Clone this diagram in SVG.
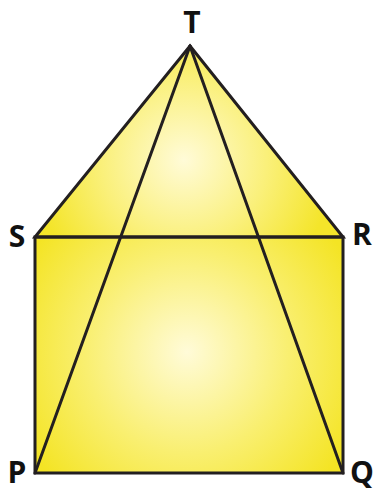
<svg xmlns="http://www.w3.org/2000/svg" width="377" height="491" viewBox="0 0 377 491">
  <style>
    .lbl { font-family: "Open Sans", "Liberation Sans", sans-serif; font-weight: bold; font-size: 30px; fill: #111; }
    .edge { stroke: #231f20; stroke-width: 3; fill: none; stroke-linejoin: miter; stroke-linecap: round; }
  </style>
  <defs>
    <radialGradient id="gTri" gradientUnits="userSpaceOnUse" cx="184" cy="160" r="150">
      <stop offset="0" stop-color="#fffbd8"/>
      <stop offset="0.55" stop-color="#faf07a"/>
      <stop offset="1" stop-color="#f4e52a"/>
    </radialGradient>
    <radialGradient id="gSq" gradientUnits="userSpaceOnUse" cx="187" cy="352" r="185">
      <stop offset="0" stop-color="#fffbd8"/>
      <stop offset="0.55" stop-color="#f9ef70"/>
      <stop offset="1" stop-color="#f4e424"/>
    </radialGradient>
  </defs>
  <g id="fills">
    <polygon points="190,46 35,237 343,237" fill="url(#gTri)"/>
    <rect x="35" y="237" width="308" height="236" fill="url(#gSq)"/>
  </g>
  <g id="connectors">
    <polygon class="edge" points="190,46 35,237 343,237"/>
    <rect class="edge" x="35" y="237" width="308" height="236"/>
    <line class="edge" x1="190" y1="46" x2="35" y2="473"/>
    <line class="edge" x1="190" y1="46" x2="343" y2="473"/>
  </g>
  <g id="T"><text class="lbl" x="192" y="33" text-anchor="middle">T</text></g>
  <g id="S"><text class="lbl" x="17" y="247" text-anchor="middle">S</text></g>
  <g id="R"><text class="lbl" x="362" y="245" text-anchor="middle">R</text></g>
  <g id="P"><text class="lbl" x="17" y="483" text-anchor="middle">P</text></g>
  <g id="Q"><text class="lbl" x="362" y="483" text-anchor="middle">Q</text></g>
</svg>
